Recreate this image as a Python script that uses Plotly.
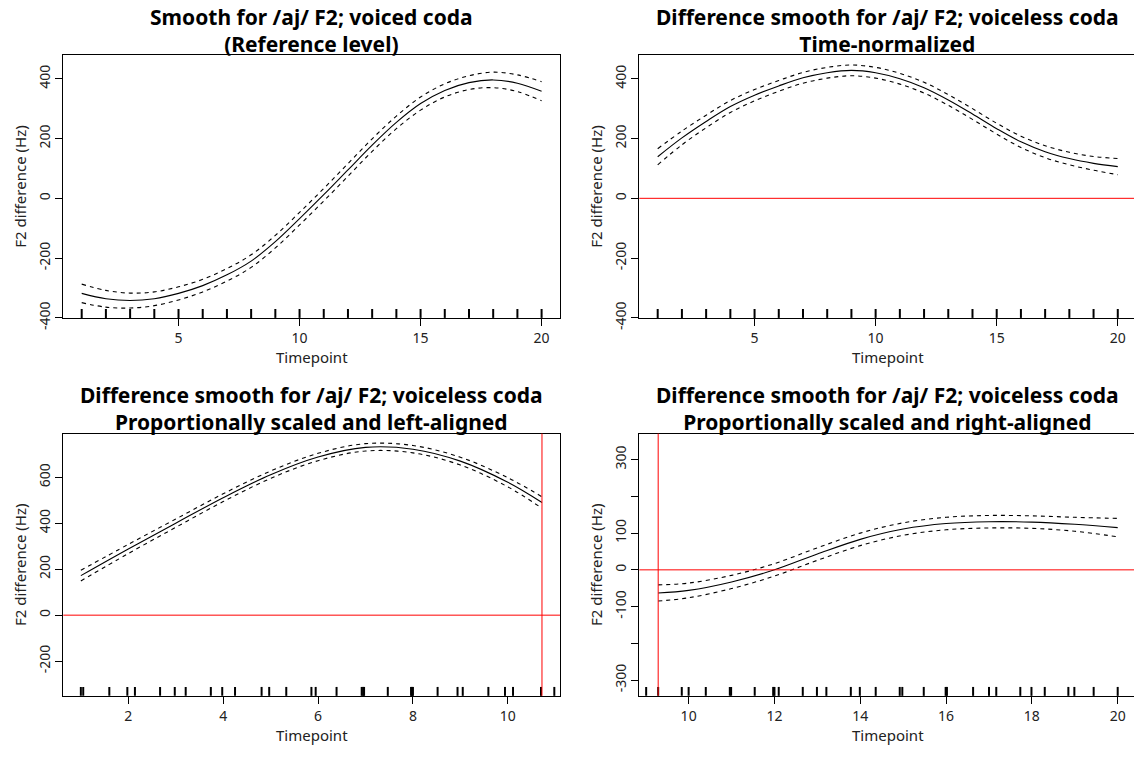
import plotly.graph_objects as go

# ---- data ------------------------------------------------------------------
# panel 1: smooth for voiced coda (reference level)
p1_x = list(range(1, 21))
p1_fit = [-318, -336, -342, -336, -318, -292, -256, -210, -145, -68,
          12, 95, 178, 254, 317, 361, 387, 396, 385, 358]
p1_ci = [31, 28, 25, 23, 22, 21, 21, 21, 21, 21,
         21, 21, 21, 21, 22, 22, 23, 26, 28, 32]
p1_rug = list(range(1, 21))

# panel 2: difference smooth, time-normalized
p2_x = list(range(1, 21))
p2_fit = [139, 202, 257, 307, 345, 376, 403, 420, 428, 420,
          400, 370, 329, 282, 233, 189, 156, 133, 117, 106]
p2_ci = [27, 23, 21, 20, 19, 18, 18, 18, 18, 18,
         18, 18, 18, 18, 18, 19, 20, 21, 23, 27]
p2_rug = list(range(1, 21))

# panel 3: proportionally scaled, left-aligned
p3_x = [1, 2, 3, 4, 5, 6, 7, 8, 9, 10, 10.72]
p3_fit = [172, 288, 400, 511, 611, 688, 730, 722, 670, 578, 490]
p3_ci = [23, 20, 18, 17, 16, 16, 16, 16, 17, 20, 25]
p3_rug = [1.0, 1.05, 1.6, 1.98, 2.14, 2.67, 2.98, 3.21, 3.74, 3.98, 4.25,
          4.81, 4.97, 5.33, 5.86, 5.95, 6.39, 6.92, 6.95, 6.97, 7.47,
          7.96, 7.98, 8.0, 8.52, 8.94, 9.05, 9.59, 9.94, 10.11, 10.7, 10.98]
p3_vline = 10.72

# panel 4: proportionally scaled, right-aligned
p4_x = [9.29, 10, 11, 12, 13, 14, 15, 16, 17, 18, 19, 20]
p4_fit = [-63, -56, -33, 0, 43, 83, 111, 126, 131, 130, 124, 115]
p4_ci = [22, 20, 18, 17, 17, 17, 17, 17, 17, 17, 19, 25]
p4_rug = [9.01, 9.29, 9.84, 10.0, 10.4, 10.96, 10.99, 11.54, 11.97, 12.0,
          12.1, 12.66, 12.99, 13.21, 13.78, 13.99, 14.36, 14.92, 14.98,
          15.48, 15.99, 16.02, 16.63, 17.0, 17.17, 17.73, 17.99, 18.3,
          18.85, 18.99, 19.44, 20.0]
p4_vline = 9.29

titles = [
    ("Smooth for /aj/ F2; voiced coda", "(Reference level)"),
    ("Difference smooth for /aj/ F2; voiceless coda", "Time-normalized"),
    ("Difference smooth for /aj/ F2; voiceless coda",
     "Proportionally scaled and left-aligned"),
    ("Difference smooth for /aj/ F2; voiceless coda",
     "Proportionally scaled and right-aligned"),
]
x_label = "Timepoint"
y_label = "F2 difference (Hz)"

# ---- layout in pixels ------------------------------------------------------
W, H = 1134, 761
FONT = "Noto Sans"


def px_x(p):
    return p / W


def px_y(p):
    return 1 - p / H


# (left, right, top, bottom) of each plot box in pixels
boxes = [(63.3, 560, 56, 323), (639.3, 1134, 56, 323),
         (63.3, 560, 440.5, 707), (639.3, 1134, 440.5, 707)]
x_ranges = [[0.24, 20.76], [0.24, 20.67], [0.63, 11.1], [8.85, 20.38]]
y_ranges = [[-400, 479], [-400, 479], [-351, 790], [-343, 371]]
x_ticks = [[5, 10, 15, 20], [5, 10, 15, 20], [2, 4, 6, 8, 10],
           [10, 12, 14, 16, 18, 20]]
y_ticks = [[-400, -200, 0, 200, 400], [-400, -200, 0, 200, 400],
           [-200, 0, 200, 400, 600], [-300, -200, -100, 0, 100, 200, 300]]
# R drops labels that would collide
y_hidden = [[], [], [], [-200, 200]]
# centre of the R plot region (right panels run past the page edge)
title_cx = [311.6, 887.7, 311.6, 887.7]

panels = [
    (p1_x, p1_fit, p1_ci, p1_rug),
    (p2_x, p2_fit, p2_ci, p2_rug),
    (p3_x, p3_fit, p3_ci, p3_rug),
    (p4_x, p4_fit, p4_ci, p4_rug),
]

fig = go.Figure()
shapes = []
annotations = []
layout = {}

for i, (xs, fit, ci, rug) in enumerate(panels):
    n = "" if i == 0 else str(i + 1)
    xa, ya = "x" + n, "y" + n
    upper = [f + c for f, c in zip(fit, ci)]
    lower = [f - c for f, c in zip(fit, ci)]
    for ys, dash in ((upper, "4px,4px"), (lower, "4px,4px"), (fit, "solid")):
        fig.add_trace(go.Scatter(
            x=xs, y=ys, mode="lines", xaxis=xa, yaxis=ya,
            line=dict(color="black", width=1.1, dash=dash, shape="spline"),
            showlegend=False, hoverinfo="skip",
        ))

    left, right, top, bottom = boxes[i]
    right_panel = i in (1, 3)
    layout["xaxis" + n] = dict(
        domain=[px_x(left), px_x(right)], anchor=ya, range=x_ranges[i],
        tickvals=x_ticks[i], ticktext=[str(v) for v in x_ticks[i]],
        ticks="outside", ticklen=7, tickwidth=1,
        tickcolor="black", showline=True, linecolor="black", linewidth=1,
        mirror=True, showgrid=False, zeroline=False,
        tickfont=dict(family=FONT, size=14, color="#222"),
    )
    layout["yaxis" + n] = dict(
        domain=[px_y(bottom), px_y(top)], anchor=xa, range=y_ranges[i],
        tickvals=y_ticks[i],
        ticktext=["" if v in y_hidden[i] else str(v) for v in y_ticks[i]],
        ticks="outside", ticklen=7, tickwidth=1,
        tickcolor="black", showline=True, linecolor="black", linewidth=1,
        mirror=not right_panel, showgrid=False, zeroline=False, tickangle=-90,
        tickfont=dict(family=FONT, size=14, color="#222"),
    )

    # rug along the bottom
    for r in rug:
        shapes.append(dict(type="line", xref=xa, yref=ya + " domain",
                           x0=r, x1=r, y0=0, y1=0.034,
                           line=dict(color="black", width=2)))

    annotations.append(dict(
        text="<b>%s</b><br><b>%s</b>" % titles[i],
        x=px_x(title_cx[i]), y=px_y(top - 25), xref="paper", yref="paper",
        xanchor="center", yanchor="middle", showarrow=False,
        font=dict(family=FONT, size=21, color="black"),
    ))
    annotations.append(dict(
        text=x_label, x=px_x(title_cx[i]), y=px_y(bottom + 40),
        xref="paper", yref="paper",
        xanchor="center", yanchor="middle", showarrow=False,
        font=dict(family=FONT, size=15, color="#222"),
    ))
    annotations.append(dict(
        text=y_label, x=px_x(left - 44), y=px_y((top + bottom) / 2),
        xref="paper", yref="paper", textangle=-90,
        xanchor="center", yanchor="middle", showarrow=False,
        font=dict(family=FONT, size=15, color="#222"),
    ))

# red reference lines
for n in ("2", "3", "4"):
    shapes.append(dict(type="line", xref="x" + n + " domain", yref="y" + n,
                       x0=0, x1=1, y0=0, y1=0, layer="above",
                       line=dict(color="#ff0000", width=1)))
for n, v in (("3", p3_vline), ("4", p4_vline)):
    shapes.append(dict(type="line", xref="x" + n, yref="y" + n + " domain",
                       x0=v, x1=v, y0=0, y1=1, layer="above",
                       line=dict(color="#ff0000", width=1)))

fig.update_layout(
    width=W, height=H, margin=dict(l=0, r=0, t=0, b=0),
    paper_bgcolor="white", plot_bgcolor="white",
    shapes=shapes, annotations=annotations, showlegend=False,
    font=dict(family=FONT),
    **layout,
)

# the page's default body margin would push the figure 8px off the window
fig.write_html("out.html", config={"displayModeBar": False},
               post_script="document.body.style.margin='0';")
